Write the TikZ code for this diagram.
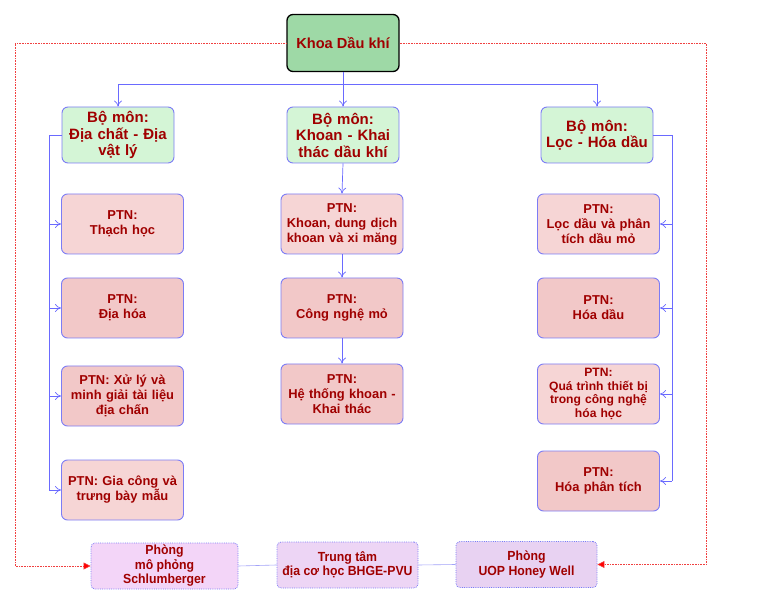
\documentclass[tikz,border=0pt]{standalone}
\usepackage{fontspec}
\setmainfont{Liberation Sans}
\newfontfamily\narrowf[FakeStretch=0.93]{Liberation Sans}
\usetikzlibrary{arrows.meta}
\definecolor{txt}{HTML}{A00000}
\definecolor{khoafill}{HTML}{9ED9A6}
\definecolor{bmfill}{HTML}{D4F5D6}
\definecolor{bord}{HTML}{7C7CF5}
\definecolor{pinkA}{HTML}{F6D5D5}
\definecolor{pinkB}{HTML}{F2C8C8}
\definecolor{linec}{HTML}{6A6AFF}
\definecolor{lavA}{HTML}{F3D5F8}
\definecolor{lavB}{HTML}{EDD5F5}
\definecolor{lavC}{HTML}{E8D2F2}
\definecolor{redl}{HTML}{F04040}
\begin{document}
\begin{tikzpicture}[x=1pt,y=-1pt,
  basebox/.style={rounded corners=6pt, align=center, text=txt, font=\bfseries, inner sep=1pt},
  khoabox/.style={basebox, draw=black, line width=1.3pt, fill=khoafill, minimum width=112pt, minimum height=57pt, font=\bfseries\fontsize{14.6}{17}\selectfont},
  bmbox/.style={basebox, draw=bord, line width=0.9pt, fill=bmfill, minimum width=112pt, minimum height=56pt, text width=110pt, font=\bfseries\fontsize{15}{16.5}\selectfont},
  ptnbox/.style={basebox, draw=bord, line width=0.9pt, minimum width=121pt, minimum height=60pt, text width=120pt, font=\bfseries\fontsize{12.9}{15}\selectfont},
  botbox/.style={basebox, draw=bord, densely dotted, line width=0.8pt, rounded corners=4pt, minimum height=46pt, font=\narrowf\bfseries\fontsize{13.2}{14.5}\selectfont},
  conn/.style={draw=linec, line width=0.7pt},
  arr/.style={conn, -{To[length=6pt,width=8pt]}},
  reddot/.style={draw=redl, densely dotted, line width=0.6pt},
  redarr/.style={reddot, -{Triangle[length=7pt,width=7pt,fill=red]}}
]
\useasboundingbox (0,0) rectangle (780,604);
\node[khoabox] (khoa) at (343,43) {Khoa Dầu khí};

\node[bmbox] (bm1) at (118,135) {Bộ môn:\\Địa chất - Địa\\vật lý};
\node[bmbox] (bm2) at (343,135) {Bộ môn:\\Khoan - Khai\\thác dầu khí};
\node[bmbox] (bm3) at (597,135) {Bộ môn:\\Lọc - Hóa dầu};

\node[ptnbox, fill=pinkA] (l1) at (122.5,224) {PTN:\\Thạch học};
\node[ptnbox, fill=pinkB] (l2) at (122.5,308) {PTN:\\Địa hóa};
\node[ptnbox, fill=pinkB] (l3) at (122.5,396) {PTN: Xử lý và\\minh giải tài liệu\\địa chấn};
\node[ptnbox, fill=pinkA] (l4) at (122.5,490) {PTN: Gia công và\\trưng bày mẫu};

\node[ptnbox, fill=pinkA] (m1) at (342,224) {PTN:\\Khoan, dung dịch\\khoan và xi măng};
\node[ptnbox, fill=pinkB] (m2) at (342,308) {PTN:\\Công nghệ mỏ};
\node[ptnbox, fill=pinkB] (m3) at (342,394) {PTN:\\Hệ thống khoan -\\Khai thác};

\node[ptnbox, fill=pinkA] (r1) at (598.5,224) {PTN:\\Lọc dầu và phân\\tích dầu mỏ};
\node[ptnbox, fill=pinkB] (r2) at (598.5,308) {PTN:\\Hóa dầu};
\node[ptnbox, fill=pinkA, font=\bfseries\fontsize{12.1}{13.5}\selectfont] (r3) at (598.5,394) {PTN:\\Quá trình thiết bị\\trong công nghệ\\hóa học};
\node[ptnbox, fill=pinkB] (r4) at (598.5,481) {PTN:\\Hóa phân tích};

\node[botbox, fill=lavA, minimum width=147pt] (b1) at (164.5,566) {Phòng\\mô phỏng\\Schlumberger};
\node[botbox, fill=lavB, minimum width=141pt] (b2) at (347.5,565) {Trung tâm\\địa cơ học BHGE-PVU};
\node[botbox, fill=lavC, minimum width=141pt] (b3) at (526.5,564.5) {Phòng\\UOP Honey Well};

% top tree
\coordinate (j) at (343,84);
\draw[conn] (khoa.south) -- (j);
\draw[arr] (j) -| (bm1.north);
\draw[arr] (j) -- (bm2.north);
\draw[arr] (j) -| (bm3.north);

% left tree
\coordinate (lt) at (49,135);
\draw[conn] (bm1.west) -- (lt) -- (lt |- l4.west);
\foreach \n in {l1,l2,l3,l4} \draw[arr] (lt |- \n.west) -- (\n.west);

% middle chain
\draw[arr] (bm2.south) -- (m1.north);
\draw[arr] (m1.south) -- (m2.north);
\draw[arr] (m2.south) -- (m3.north);

% right tree
\coordinate (rt) at (672,135);
\draw[conn] (bm3.east) -- (rt) -- (rt |- r4.east);
\foreach \n in {r1,r2,r3,r4} \draw[arr] (rt |- \n.east) -- (\n.east);

% red dotted
\coordinate (rl) at (15,43);
\coordinate (rr) at (706,43);
\draw[redarr] (khoa.west) -- (rl) |- (b1.west);
\draw[redarr] (khoa.east) -- (rr) |- (b3.east);

% bottom links
\draw[draw=bord!70, line width=0.6pt] (b1.east) -- (b2.west);
\draw[draw=bord!70, line width=0.6pt] (b2.east) -- (b3.west);
\end{tikzpicture}
\end{document}
